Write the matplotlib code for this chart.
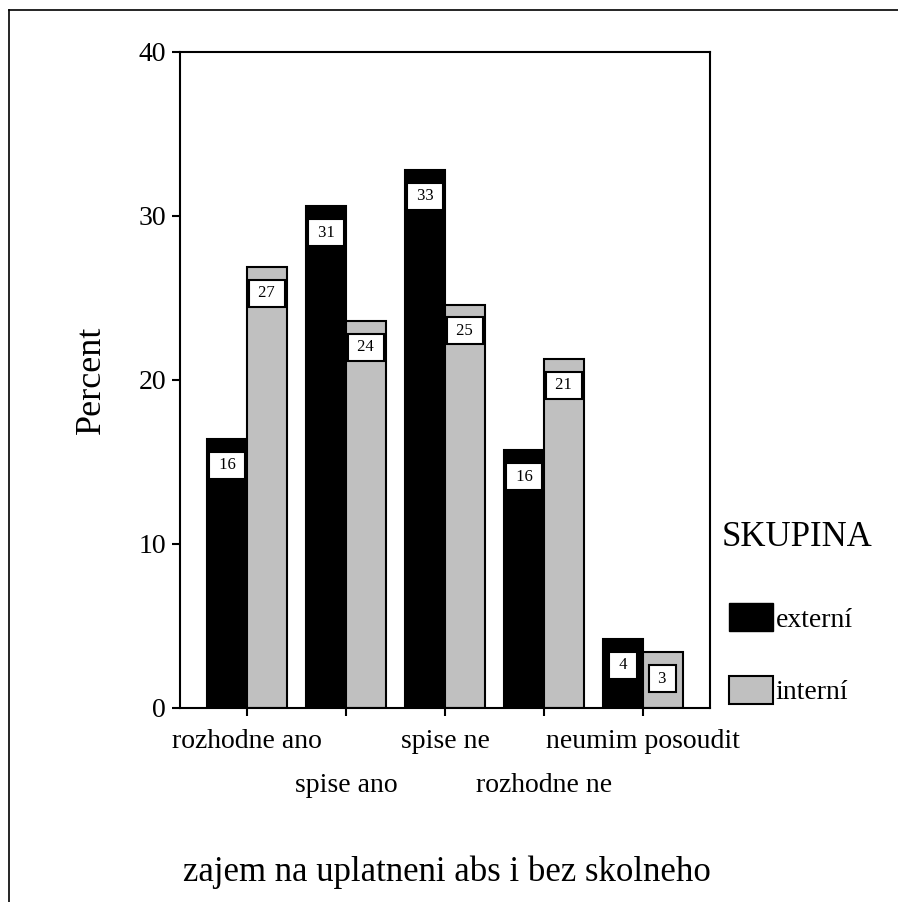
import matplotlib.pyplot as plt
import numpy as np
from matplotlib.lines import Line2D
from matplotlib.patches import Patch

plt.rcParams['font.family'] = ['Liberation Serif', 'DejaVu Serif']

categories = ['rozhodne ano', 'spise ano', 'spise ne', 'rozhodne ne', 'neumim posoudit']
externi = [16.4, 30.6, 32.8, 15.7, 4.2]
interni = [26.9, 23.6, 24.6, 21.3, 3.4]
externi_labels = ['16', '31', '33', '16', '4']
interni_labels = ['27', '24', '25', '21', '3']

fig = plt.figure(figsize=(8.98, 9.02), dpi=100)
ax = fig.add_axes([0.2004, 0.2151, 0.5902, 0.7273])

x = np.arange(len(categories))
w = 0.40
ax.bar(x - w / 2, externi, width=w, color='black', edgecolor='black', linewidth=1.5)
ax.bar(x + w / 2, interni, width=w, color='#c0c0c0', edgecolor='black', linewidth=1.5)

# value boxes just under the top of each bar
for xs, vals, labs in [(x - w / 2, externi, externi_labels), (x + w / 2, interni, interni_labels)]:
    for xi, v, lab in zip(xs, vals, labs):
        ax.annotate(' ' + lab + ' ', (xi, v), xytext=(0, -19), textcoords='offset points',
                    ha='center', va='center', fontsize=12,
                    bbox=dict(boxstyle='square,pad=0.33', fc='white', ec='black', lw=1.5))

ax.set_xlim(-0.677, 4.677)
ax.set_ylim(0, 40)
ax.set_yticks([0, 10, 20, 30, 40])
ax.set_xticks(x)
ax.set_xticklabels(categories)
ax.tick_params(axis='both', direction='out', length=6, width=1.5, labelsize=20)
ax.tick_params(axis='y', pad=4)
# staggered category labels
for i, t in enumerate(ax.xaxis.get_major_ticks()):
    t.set_pad(9 if i % 2 == 0 else 41)
for s in ax.spines.values():
    s.set_linewidth(1.5)

ax.set_ylabel('Percent', fontsize=26, labelpad=22)
fig.text(0.498, 0.023, 'zajem na uplatneni abs i bez skolneho', ha='center', va='baseline', fontsize=25)

# legend
fig.text(0.804, 0.404, 'SKUPINA', ha='left', va='center', fontsize=25)
handles = [Patch(facecolor='black', edgecolor='black', label='externí'),
           Patch(facecolor='#c0c0c0', edgecolor='black', linewidth=1.5, label='interní')]
fig.legend(handles=handles, loc='upper left', bbox_to_anchor=(0.8118, 0.3315),
           frameon=False, fontsize=20, handlelength=1.58, handleheight=1.2,
           handletextpad=0.1, labelspacing=1.55, borderaxespad=0, borderpad=0)

# outer frame (left and top edges visible)
fig.add_artist(Line2D([0.010, 0.010], [0, 0.989], color='black', lw=1.2))
fig.add_artist(Line2D([0.010, 1.0], [0.989, 0.989], color='black', lw=1.2))

fig.savefig('out.png', dpi=100)
